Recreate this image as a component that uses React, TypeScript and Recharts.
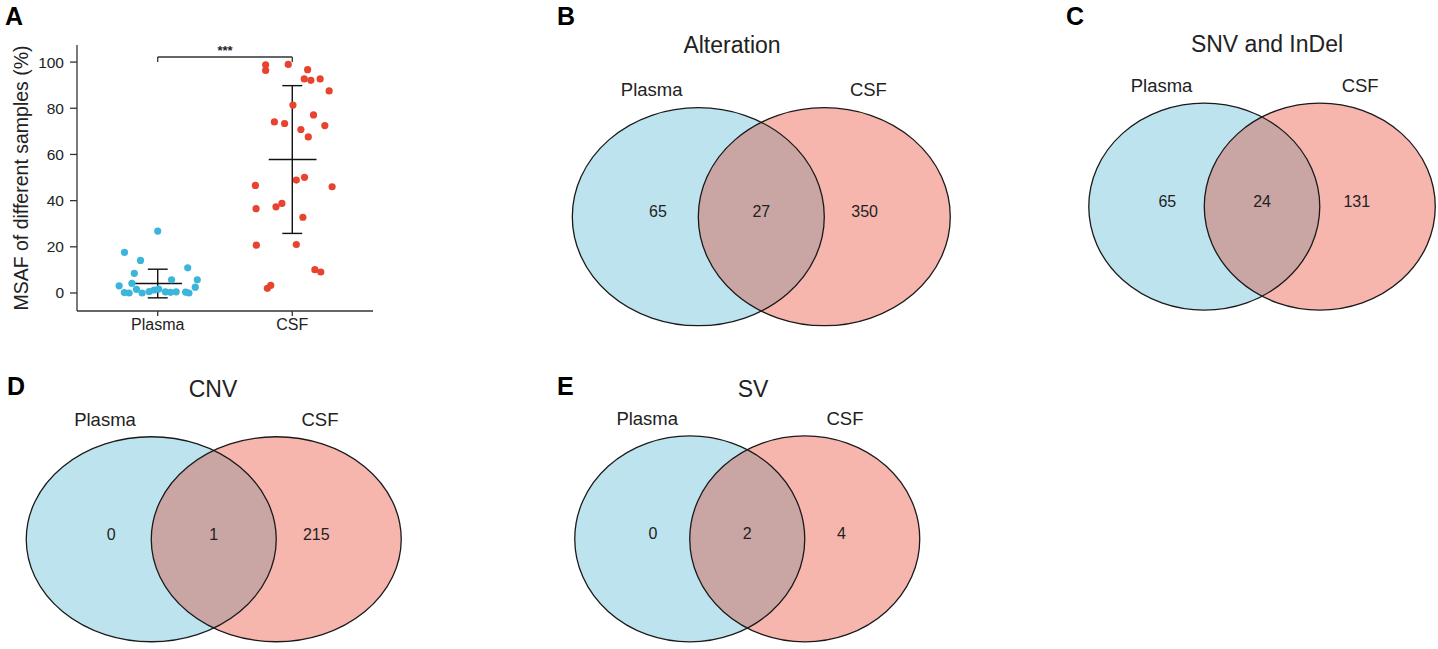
import React from 'react';
import { ScatterChart, Scatter, XAxis, YAxis, ReferenceLine, Label } from 'recharts';

const FONT = '"Liberation Sans", Arial, Helvetica, sans-serif';
const BLUE_DOT = '#3bb6da';
const RED_DOT = '#e8432f';
const BLUE_SET = '#bde4ee';
const RED_SET = '#f6b6ae';
const OVERLAP = '#c9a6a4';
const INK = '#222';

// panel A: MSAF (%) per sample, x = jittered position around the group (1 = Plasma, 2 = CSF)
const groups = ['Plasma', 'CSF'];
const plasmaJitter = [1.0, 0.753, 0.872, 1.223, 0.826, 1.103, 1.294, 0.713, 0.808, 1.279, 0.752, 0.787, 0.842, 0.884, 0.936, 0.973, 1.007, 1.057, 1.095, 1.137, 1.207, 1.232];
const plasmaMsaf = [26.8, 17.6, 14.1, 10.9, 8.5, 5.7, 5.7, 3.1, 4.2, 2.5, 0.2, 0, 1.6, 0, 0.6, 1.3, 1.7, 0.5, 0.3, 0.5, 0.4, 0];
const csfJitter = [1.802, 1.802, 1.97, 2.114, 2.089, 2.138, 2.207, 2.274, 2.005, 1.867, 1.943, 2.158, 2.242, 2.064, 2.119, 1.726, 2.296, 2.03, 2.091, 1.731, 1.879, 1.923, 2.079, 1.733, 2.03, 2.168, 2.212, 1.815, 1.84];
const csfMsaf = [98.8, 96.4, 99.0, 96.7, 92.7, 92.1, 92.7, 87.5, 81.4, 74.1, 73.4, 77.1, 72.5, 70.8, 67.6, 46.6, 46.0, 48.9, 50.1, 36.5, 37.3, 38.8, 32.8, 20.7, 21.0, 10.1, 9.1, 2.0, 3.3];
const groupMean = [4.1, 57.8];
const groupSd = [6.2, 32.0];
const yTicks = [0, 20, 40, 60, 80, 100];

// panels B-E: venn counts
const vennTitles = ['Alteration', 'SNV and InDel', 'CNV', 'SV'];
const plasmaOnly = [65, 65, 0, 0];
const sharedCount = [27, 24, 1, 2];
const csfOnly = [350, 131, 215, 4];

// pixel layout of each venn (center of the Plasma ellipse, radii)
const vennBoxes = [
  { cx: 698.5, cy: 217, rx: 126, ry: 109 },
  { cx: 1204, cy: 206.5, rx: 115.5, ry: 103.5 },
  { cx: 151.5, cy: 539.5, rx: 125, ry: 102.5 },
  { cx: 689.5, cy: 539, rx: 115, ry: 103 },
];
const titlePos = [
  { x: 732, y: 53 },
  { x: 1267, y: 52 },
  { x: 213, y: 397 },
  { x: 753, y: 397 },
];
const panelLetters = [
  { t: 'A', x: 5, y: 25 },
  { t: 'B', x: 557, y: 25 },
  { t: 'C', x: 1066, y: 25 },
  { t: 'D', x: 7, y: 395 },
  { t: 'E', x: 557, y: 395 },
];

function Dot(color: string) {
  return (p: any) => <circle cx={p.cx} cy={p.cy} r={3.6} fill={color} />;
}

function DotPlot() {
  const plasma = plasmaMsaf.map((y, k) => ({ x: plasmaJitter[k], y }));
  const csf = csfMsaf.map((y, k) => ({ x: csfJitter[k], y }));
  const bar = { stroke: '#111', strokeWidth: 1.4 };
  return (
    <ScatterChart width={380} height={340} margin={{ top: 45, right: 7, bottom: 4, left: 0 }} style={{ fontFamily: FONT }}>
      <XAxis
        type="number"
        dataKey="x"
        domain={[0.4, 2.6]}
        ticks={[1, 2]}
        tickFormatter={(v: number) => groups[v - 1]}
        allowDataOverflow
        height={25}
        tickSize={5}
        tickMargin={3}
        stroke="#333"
        strokeWidth={1.3}
        tick={{ fill: INK, fontSize: 16 }}
      />
      <YAxis
        type="number"
        dataKey="y"
        domain={[-7.8, 107.4]}
        ticks={yTicks}
        allowDataOverflow
        width={77}
        tickSize={7}
        tickMargin={6}
        stroke="#333"
        strokeWidth={1.3}
        tick={{ fill: INK, fontSize: 15.5 }}
      >
        <Label
          value="MSAF of different samples (%)"
          angle={-90}
          position="insideLeft"
          offset={21}
          style={{ textAnchor: 'middle', fontSize: 19.5, fill: INK }}
        />
      </YAxis>
      <Scatter data={plasma} isAnimationActive={false} shape={Dot(BLUE_DOT)} />
      <Scatter data={csf} isAnimationActive={false} shape={Dot(RED_DOT)} />
      {groupMean.map((m, g) => {
        const c = g + 1;
        const s = groupSd[g];
        return (
          <React.Fragment key={g}>
            <ReferenceLine segment={[{ x: c - 0.175, y: m }, { x: c + 0.18, y: m }]} {...bar} />
            <ReferenceLine segment={[{ x: c, y: m - s }, { x: c, y: m + s }]} {...bar} />
            <ReferenceLine segment={[{ x: c - 0.074, y: m + s }, { x: c + 0.074, y: m + s }]} {...bar} />
            <ReferenceLine segment={[{ x: c - 0.074, y: m - s }, { x: c + 0.074, y: m - s }]} {...bar} />
          </React.Fragment>
        );
      })}
      <ReferenceLine segment={[{ x: 1, y: 100 }, { x: 1, y: 102.2 }]} stroke="#333" strokeWidth={1.3} />
      <ReferenceLine segment={[{ x: 2, y: 100 }, { x: 2, y: 102.2 }]} stroke="#333" strokeWidth={1.3} />
      <ReferenceLine
        segment={[{ x: 1, y: 102.2 }, { x: 2, y: 102.2 }]}
        stroke="#333"
        strokeWidth={1.3}
        label={{ value: '***', position: 'top', offset: 2, fill: INK, fontSize: 13, fontWeight: 'bold' }}
      />
    </ScatterChart>
  );
}

function Venn({ i }: { i: number }) {
  const b = vennBoxes[i];
  const w = 3.1 * b.rx;
  const h = 2.35 * b.ry;
  const clipId = `venn-clip-${i}`;
  const sets = groups.map((g, k) => ({ x: k === 0 ? -0.5 : 0.5, y: 0, k }));
  const counts = [plasmaOnly[i], sharedCount[i], csfOnly[i]].map((v, k) => ({ x: (k - 1) * 0.82, y: 0.05, v }));
  const names = groups.map((g, k) => ({ x: k === 0 ? -0.87 : 0.85, y: 1.17, g }));
  const line = { stroke: '#1a1a1a', strokeWidth: 1.3, fill: 'none' };
  return (
    <div style={{ position: 'absolute', left: b.cx - 1.05 * b.rx, top: b.cy - 1.3 * b.ry }}>
      <ScatterChart width={w} height={h} margin={{ top: 0, right: 0, bottom: 0, left: 0 }} style={{ fontFamily: FONT }}>
        <XAxis type="number" dataKey="x" domain={[-1.55, 1.55]} hide />
        <YAxis type="number" dataKey="y" domain={[-1.05, 1.3]} hide />
        <Scatter
          data={sets}
          isAnimationActive={false}
          shape={(p: any) => (
            <ellipse cx={p.cx} cy={p.cy} rx={b.rx} ry={b.ry} fill={p.payload.k === 0 ? BLUE_SET : RED_SET} />
          )}
        />
        <Scatter
          data={[sets[1]]}
          isAnimationActive={false}
          shape={(p: any) => (
            <g>
              <defs>
                <clipPath id={clipId}>
                  <ellipse cx={p.cx - b.rx} cy={p.cy} rx={b.rx} ry={b.ry} />
                </clipPath>
              </defs>
              <ellipse cx={p.cx} cy={p.cy} rx={b.rx} ry={b.ry} fill={OVERLAP} clipPath={`url(#${clipId})`} />
              <ellipse cx={p.cx - b.rx} cy={p.cy} rx={b.rx} ry={b.ry} {...line} />
              <ellipse cx={p.cx} cy={p.cy} rx={b.rx} ry={b.ry} {...line} />
            </g>
          )}
        />
        <Scatter
          data={counts}
          isAnimationActive={false}
          shape={(p: any) => (
            <text x={p.cx} y={p.cy} textAnchor="middle" dominantBaseline="central" fontSize={16} fill={INK}>
              {p.payload.v}
            </text>
          )}
        />
        <Scatter
          data={names}
          isAnimationActive={false}
          shape={(p: any) => (
            <text x={p.cx} y={p.cy} textAnchor="middle" dominantBaseline="central" fontSize={18.5} fill={INK}>
              {p.payload.g}
            </text>
          )}
        />
      </ScatterChart>
    </div>
  );
}

export default function App() {
  return (
    <div
      style={{
        position: 'absolute',
        left: 0,
        top: 0,
        width: 1438,
        height: 649,
        overflow: 'hidden',
        background: '#fff',
        fontFamily: FONT,
      }}
    >
      <div style={{ position: 'absolute', left: 0, top: 0 }}>
        <DotPlot />
      </div>
      {vennTitles.map((_, i) => (
        <Venn key={i} i={i} />
      ))}
      <svg width={1438} height={649} style={{ position: 'absolute', left: 0, top: 0, pointerEvents: 'none' }}>
        {panelLetters.map((l) => (
          <text key={l.t} x={l.x} y={l.y} fontSize={25} fontWeight="bold" fill="#000" fontFamily={FONT}>
            {l.t}
          </text>
        ))}
        {vennTitles.map((t, i) => (
          <text key={t} x={titlePos[i].x} y={titlePos[i].y} textAnchor="middle" fontSize={23} fill={INK} fontFamily={FONT}>
            {t}
          </text>
        ))}
      </svg>
    </div>
  );
}
